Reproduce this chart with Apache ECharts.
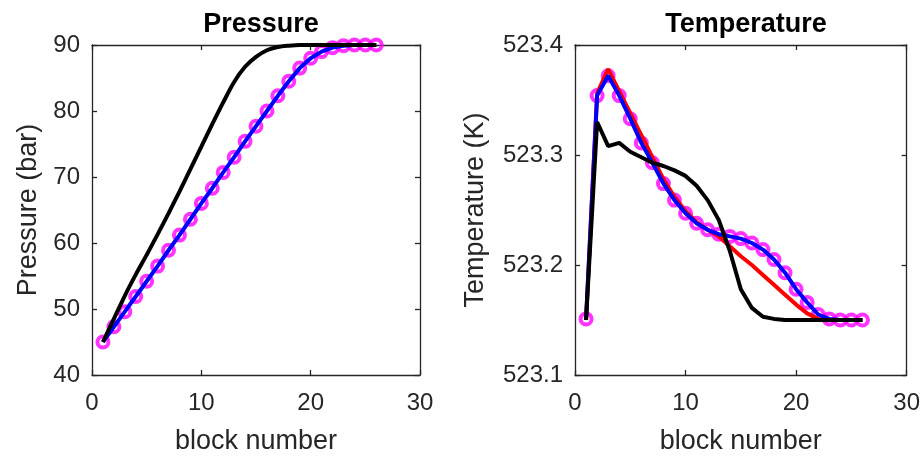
<!DOCTYPE html>
<html>
<head>
<meta charset="utf-8">
<script src="https://cdn.jsdelivr.net/npm/echarts@6/dist/echarts.min.js"></script>
<style>html,body{margin:0;padding:0;background:#fff;}#c{width:923px;height:460px;}</style>
</head>
<body>
<div id="c"></div>
<script>
var blocks = [1,2,3,4,5,6,7,8,9,10,11,12,13,14,15,16,17,18,19,20,21,22,23,24,25,26];
var xTicks = [0,10,20,30];
var pTicks = [40,50,60,70,80,90];
var tTicks = [523.1,523.2,523.3,523.4];

var pressureMarks = [45,47.3,49.6,51.9,54.2,56.5,58.9,61.2,63.6,66.0,68.3,70.7,73.0,75.4,77.7,80.0,82.3,84.5,86.5,88.0,89.0,89.6,89.9,90,90,90];
var pressureBlue  = [45,47.3,49.6,51.9,54.2,56.5,58.9,61.2,63.6,66.0,68.3,70.7,73.0,75.4,77.7,80.0,82.3,84.5,86.5,88.0,89.0,89.6,89.9,90,90,90];
var pressureBlack = [45,48.5,52.0,55.2,58.2,61.3,64.5,67.8,71.2,74.6,78.0,81.3,84.4,86.7,88.2,89.2,89.7,89.9,90,90,90,90,90,90,90,90];

var tempMarks = [523.151,523.354,523.372,523.354,523.333,523.311,523.293,523.274,523.259,523.247,523.238,523.232,523.228,523.226,523.224,523.220,523.214,523.205,523.193,523.178,523.166,523.155,523.151,523.15,523.15,523.15];
var tempBlue  = [523.151,523.354,523.372,523.354,523.333,523.311,523.293,523.274,523.259,523.247,523.238,523.232,523.228,523.226,523.224,523.220,523.214,523.205,523.193,523.178,523.166,523.155,523.151,523.15,523.15,523.15];
var tempRed   = [523.15,523.356,523.378,523.358,523.338,523.318,523.298,523.278,523.262,523.249,523.239,523.232,523.226,523.217,523.208,523.200,523.191,523.182,523.173,523.164,523.156,523.151,523.15,523.15,523.15,523.15];
var tempBlack = [523.15,523.330,523.308,523.311,523.303,523.298,523.293,523.290,523.286,523.281,523.272,523.259,523.241,523.213,523.178,523.161,523.153,523.151,523.15,523.15,523.15,523.15,523.15,523.15,523.15,523.15];

function pairs(ys){ return blocks.map(function(b,i){ return [b, ys[i]]; }); }

var FONT = "'Liberation Sans', Arial, sans-serif";
var AX = '#262626';

function xAx(grid, ticks, pos){
  var bottom = pos === 'bottom';
  return {
    type:'value', gridIndex:grid, position:pos,
    min:ticks[0], max:ticks[ticks.length-1], interval:ticks[1]-ticks[0],
    name: bottom ? 'block number' : '', nameLocation:'middle', nameGap:53,
    nameTextStyle:{color:AX, fontSize:27, fontFamily:FONT},
    axisLine:{show:true, onZero:false, lineStyle:{color:AX, width:1.3}},
    axisTick:{show:true, inside:true, length:5, lineStyle:{color:AX, width:1.3}},
    axisLabel:{show:bottom, margin:16, color:AX, fontSize:24, fontFamily:FONT},
    splitLine:{show:false}
  };
}
function yAx(grid, ticks, pos, name, gap, dec){
  var left = pos === 'left';
  var step = Math.round((ticks[1]-ticks[0])*1000)/1000;
  return {
    type:'value', gridIndex:grid, position:pos,
    min:ticks[0], max:ticks[ticks.length-1], interval:step,
    name: left ? name : '', nameLocation:'middle', nameGap:gap,
    nameTextStyle:{color:AX, fontSize:27, fontFamily:FONT},
    axisLine:{show:true, onZero:false, lineStyle:{color:AX, width:1.3}},
    axisTick:{show:true, inside:true, length:5, lineStyle:{color:AX, width:1.3}},
    axisLabel:{show:left, margin:12, color:AX, fontSize:24, fontFamily:FONT,
      formatter:function(v){ return v.toFixed(dec); }},
    splitLine:{show:false}
  };
}
function marks(xi, yi, ys){
  return {type:'scatter', xAxisIndex:xi, yAxisIndex:yi, data:pairs(ys), symbol:'circle', symbolSize:11,
    itemStyle:{color:'rgba(0,0,0,0)', borderColor:'#ff00ff', borderWidth:4}, clip:false, silent:true};
}
function line(xi, yi, ys, color, w, smooth){
  return {type:'line', xAxisIndex:xi, yAxisIndex:yi, data:pairs(ys), showSymbol:false, symbol:'none',
    smooth: smooth || false,
    lineStyle:{color:color, width:w}, clip:false, silent:true, animation:false};
}

var chart = echarts.init(document.getElementById('c'), null, {renderer:'canvas'});
chart.setOption({
  animation:false,
  backgroundColor:'#fff',
  title:[
    {text:'Pressure', left:256, top:6, textAlign:'center', textStyle:{fontSize:27, fontWeight:'bold', color:'#000', fontFamily:FONT}},
    {text:'Temperature', left:741, top:6, textAlign:'center', textStyle:{fontSize:27, fontWeight:'bold', color:'#000', fontFamily:FONT}}
  ],
  grid:[
    {left:92, top:45, width:328, height:331},
    {left:575, top:45, width:332, height:331}
  ],
  xAxis:[xAx(0,xTicks,'bottom'), xAx(0,xTicks,'top'), xAx(1,xTicks,'bottom'), xAx(1,xTicks,'top')],
  yAxis:[yAx(0,pTicks,'left','Pressure (bar)',50,0), yAx(0,pTicks,'right','',0,0),
         yAx(1,tTicks,'left','Temperature (K)',86,1), yAx(1,tTicks,'right','',0,1)],
  series:[
    marks(0,0,pressureMarks),
    line(0,0,pressureBlue,'#0000ff',4),
    line(0,0,pressureBlack,'#000000',4, 0.3),
    line(2,2,tempRed,'#ff0000',4),
    marks(2,2,tempMarks),
    line(2,2,tempBlue,'#0000ff',4),
    line(2,2,tempBlack,'#000000',4)
  ]
});
</script>
</body>
</html>
